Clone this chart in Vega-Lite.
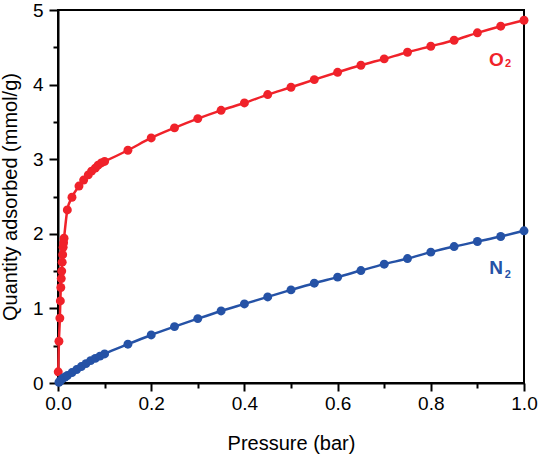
{
  "$schema": "https://vega.github.io/schema/vega-lite/v6.json",
  "autosize": "none",
  "width": 466,
  "height": 373,
  "padding": {"left": 58, "top": 10, "right": 14, "bottom": 73},
  "background": "white",
  "config": {
    "font": "Liberation Sans",
    "view": {"stroke": "black", "strokeWidth": 2},
    "axis": {
      "domainColor": "black", "domainWidth": 2, "tickColor": "black", "tickWidth": 2,
      "labelColor": "black", "titleColor": "black", "grid": false, "labelFlush": false,
      "labelFont": "Liberation Sans", "titleFont": "Liberation Sans",
      "labelFontSize": 19, "titleFontSize": 20, "titleFontWeight": "normal"
    }
  },
  "datasets": {
    "iso": [
      {"gas": "O2", "p": 0.0005, "q": 0.15},
      {"gas": "O2", "p": 0.002, "q": 0.56},
      {"gas": "O2", "p": 0.004, "q": 0.87},
      {"gas": "O2", "p": 0.005, "q": 1.1},
      {"gas": "O2", "p": 0.006, "q": 1.28},
      {"gas": "O2", "p": 0.007, "q": 1.4},
      {"gas": "O2", "p": 0.008, "q": 1.5},
      {"gas": "O2", "p": 0.009, "q": 1.62},
      {"gas": "O2", "p": 0.01, "q": 1.72},
      {"gas": "O2", "p": 0.011, "q": 1.82},
      {"gas": "O2", "p": 0.012, "q": 1.88},
      {"gas": "O2", "p": 0.013, "q": 1.94},
      {"gas": "O2", "p": 0.02, "q": 2.32},
      {"gas": "O2", "p": 0.03, "q": 2.49},
      {"gas": "O2", "p": 0.045, "q": 2.64},
      {"gas": "O2", "p": 0.055, "q": 2.72},
      {"gas": "O2", "p": 0.065, "q": 2.79},
      {"gas": "O2", "p": 0.072, "q": 2.84},
      {"gas": "O2", "p": 0.08, "q": 2.88},
      {"gas": "O2", "p": 0.086, "q": 2.92},
      {"gas": "O2", "p": 0.093, "q": 2.95},
      {"gas": "O2", "p": 0.1, "q": 2.97},
      {"gas": "O2", "p": 0.15, "q": 3.12},
      {"gas": "O2", "p": 0.2, "q": 3.285},
      {"gas": "O2", "p": 0.25, "q": 3.42},
      {"gas": "O2", "p": 0.3, "q": 3.544},
      {"gas": "O2", "p": 0.35, "q": 3.655},
      {"gas": "O2", "p": 0.4, "q": 3.754},
      {"gas": "O2", "p": 0.45, "q": 3.866},
      {"gas": "O2", "p": 0.5, "q": 3.964},
      {"gas": "O2", "p": 0.55, "q": 4.067},
      {"gas": "O2", "p": 0.6, "q": 4.165},
      {"gas": "O2", "p": 0.65, "q": 4.259},
      {"gas": "O2", "p": 0.7, "q": 4.345},
      {"gas": "O2", "p": 0.75, "q": 4.434},
      {"gas": "O2", "p": 0.8, "q": 4.514},
      {"gas": "O2", "p": 0.85, "q": 4.595},
      {"gas": "O2", "p": 0.9, "q": 4.694},
      {"gas": "O2", "p": 0.95, "q": 4.783},
      {"gas": "O2", "p": 1.0, "q": 4.863},
      {"gas": "N2", "p": 0.002, "q": 0.01},
      {"gas": "N2", "p": 0.005, "q": 0.03},
      {"gas": "N2", "p": 0.01, "q": 0.06},
      {"gas": "N2", "p": 0.015, "q": 0.08},
      {"gas": "N2", "p": 0.02, "q": 0.1},
      {"gas": "N2", "p": 0.03, "q": 0.14},
      {"gas": "N2", "p": 0.04, "q": 0.18},
      {"gas": "N2", "p": 0.05, "q": 0.22},
      {"gas": "N2", "p": 0.06, "q": 0.26},
      {"gas": "N2", "p": 0.07, "q": 0.3},
      {"gas": "N2", "p": 0.08, "q": 0.33},
      {"gas": "N2", "p": 0.09, "q": 0.36},
      {"gas": "N2", "p": 0.1, "q": 0.39},
      {"gas": "N2", "p": 0.15, "q": 0.52},
      {"gas": "N2", "p": 0.2, "q": 0.644},
      {"gas": "N2", "p": 0.25, "q": 0.756},
      {"gas": "N2", "p": 0.3, "q": 0.863},
      {"gas": "N2", "p": 0.35, "q": 0.966},
      {"gas": "N2", "p": 0.4, "q": 1.06},
      {"gas": "N2", "p": 0.45, "q": 1.154},
      {"gas": "N2", "p": 0.5, "q": 1.248},
      {"gas": "N2", "p": 0.55, "q": 1.338},
      {"gas": "N2", "p": 0.6, "q": 1.419},
      {"gas": "N2", "p": 0.65, "q": 1.507},
      {"gas": "N2", "p": 0.7, "q": 1.593},
      {"gas": "N2", "p": 0.75, "q": 1.668},
      {"gas": "N2", "p": 0.8, "q": 1.754},
      {"gas": "N2", "p": 0.85, "q": 1.829},
      {"gas": "N2", "p": 0.9, "q": 1.897},
      {"gas": "N2", "p": 0.95, "q": 1.964},
      {"gas": "N2", "p": 1.0, "q": 2.04}
    ],
    "labels": [
      {"gas": "O2", "t": "O", "p": 0.941, "q": 4.33},
      {"gas": "N2", "t": "N", "p": 0.94, "q": 1.54}
    ],
    "subs": [
      {"gas": "O2", "t": "2", "p": 0.966, "q": 4.27},
      {"gas": "N2", "t": "2", "p": 0.965, "q": 1.45}
    ]
  },
  "resolve": {"axis": {"x": "independent", "y": "independent"}},
  "layer": [
    {
      "data": {"name": "iso"},
      "mark": {"type": "line", "interpolate": "monotone", "strokeWidth": 2.5},
      "encoding": {
        "x": {"field": "p", "type": "quantitative", "scale": {"domain": [0, 1], "nice": false},
          "axis": {"orient": "bottom", "values": [0, 0.2, 0.4, 0.6, 0.8, 1.0], "format": ".1f", "title": "Pressure (bar)", "tickSize": 8, "labelPadding": 3, "titlePadding": 20}},
        "y": {"field": "q", "type": "quantitative", "scale": {"domain": [0, 5], "nice": false},
          "axis": {"orient": "left", "values": [0, 1, 2, 3, 4, 5], "format": "d", "title": "Quantity adsorbed (mmol/g)", "titleFontSize": 20, "tickSize": 9, "labelPadding": 6, "titlePadding": 12}},
        "color": {"field": "gas", "type": "nominal", "scale": {"domain": ["O2", "N2"], "range": ["#f0222a", "#2552a6"]}, "legend": null},
        "detail": {"field": "gas"}
      }
    },
    {
      "data": {"name": "iso"},
      "mark": {"type": "point", "filled": true, "opacity": 1, "size": 80},
      "encoding": {
        "x": {"field": "p", "type": "quantitative", "axis": {"orient": "bottom", "values": [0.1, 0.3, 0.5, 0.7, 0.9], "labels": false, "title": null, "domain": false, "tickSize": 5}},
        "y": {"field": "q", "type": "quantitative", "axis": {"orient": "left", "values": [0.5, 1.5, 2.5, 3.5, 4.5], "labels": false, "title": null, "domain": false, "tickSize": 5}},
        "color": {"field": "gas", "type": "nominal", "legend": null}
      }
    },
    {
      "data": {"name": "labels"},
      "mark": {"type": "text", "fontSize": 19, "fontWeight": "bold", "align": "center", "baseline": "middle"},
      "encoding": {
        "x": {"field": "p", "type": "quantitative", "axis": null},
        "y": {"field": "q", "type": "quantitative", "axis": null},
        "text": {"field": "t"},
        "color": {"field": "gas", "type": "nominal", "legend": null}
      }
    },
    {
      "data": {"name": "subs"},
      "mark": {"type": "text", "fontSize": 11, "fontWeight": "bold", "align": "center", "baseline": "middle"},
      "encoding": {
        "x": {"field": "p", "type": "quantitative", "axis": null},
        "y": {"field": "q", "type": "quantitative", "axis": null},
        "text": {"field": "t"},
        "color": {"field": "gas", "type": "nominal", "legend": null}
      }
    }
  ]
}
